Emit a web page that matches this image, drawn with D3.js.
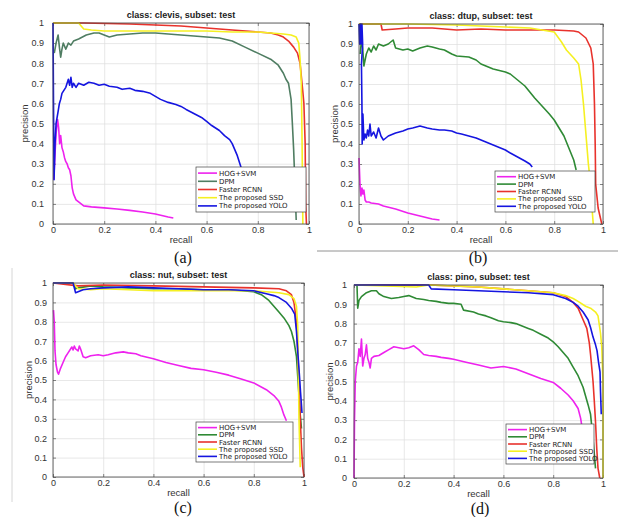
<!DOCTYPE html>
<html>
<head>
<meta charset="utf-8">
<script src="https://d3js.org/d3.v7.min.js"></script>
<style>
  body { margin: 0; background: #fff; }
  svg { display: block; font-family: "Liberation Sans", Arial, sans-serif; }
  .grid line { stroke: #dedede; stroke-width: 0.7px; }
  .tick text { font-size: 9px; fill: #333; }
  .axis path { display: none; }
  .axis line { stroke: #555; stroke-width: 0.7px; }
  .pr { fill: none; stroke-width: 1.6px; stroke-linejoin: round; }
  .leg text { font-family: "DejaVu Sans", sans-serif; font-size: 7px; fill: #222; }
</style>
</head>
<body>
<div id="chart"></div>
<script>
  // categories / labels
  const methods = ["HOG+SVM", "DPM", "Faster RCNN", "The proposed SSD", "The proposed YOLO"];
  const classes = ["clevis", "dtup", "nut", "pino"];
  const captions = ["(a)", "(b)", "(c)", "(d)"];
  const recallTicks = [0, 0.2, 0.4, 0.6, 0.8, 1];
  const precisionTicks = [0, 0.1, 0.2, 0.3, 0.4, 0.5, 0.6, 0.7, 0.8, 0.9, 1];

  // (a) clevis  -- [recall, precision]
  const clevisHog = [[0.003,0.22],[0.008,0.35],[0.012,0.45],[0.018,0.52],[0.022,0.48],[0.026,0.4],[0.03,0.44],[0.035,0.38],[0.04,0.36],[0.045,0.33],[0.05,0.31],[0.055,0.3],[0.06,0.28],[0.065,0.27],[0.07,0.24],[0.075,0.18],[0.08,0.15],[0.09,0.12],[0.1,0.11],[0.11,0.1],[0.12,0.09],[0.15,0.085],[0.2,0.08],[0.25,0.075],[0.3,0.068],[0.35,0.06],[0.4,0.05],[0.45,0.035],[0.47,0.03]];
  const clevisDpm = [[0.005,0.85],[0.012,0.9],[0.02,0.94],[0.025,0.88],[0.03,0.83],[0.035,0.87],[0.04,0.9],[0.05,0.87],[0.06,0.9],[0.07,0.89],[0.08,0.91],[0.1,0.92],[0.13,0.94],[0.16,0.95],[0.18,0.95],[0.2,0.94],[0.22,0.93],[0.25,0.94],[0.3,0.945],[0.35,0.95],[0.4,0.95],[0.45,0.945],[0.5,0.94],[0.55,0.935],[0.6,0.93],[0.65,0.925],[0.7,0.91],[0.75,0.88],[0.8,0.85],[0.85,0.82],[0.88,0.79],[0.9,0.75],[0.91,0.72],[0.92,0.7],[0.93,0.62],[0.935,0.5],[0.94,0.37],[0.945,0.2],[0.95,0.02]];
  const clevisRcnn = [[0,1],[0.12,1],[0.3,0.995],[0.4,0.99],[0.5,0.985],[0.6,0.975],[0.7,0.965],[0.8,0.955],[0.85,0.95],[0.88,0.94],[0.9,0.93],[0.92,0.91],[0.94,0.88],[0.955,0.85],[0.965,0.8],[0.975,0.67],[0.98,0.6],[0.985,0.4],[0.987,0.1],[0.99,0]];
  const clevisSsd = [[0,1],[0.1,1],[0.12,0.97],[0.15,0.965],[0.2,0.96],[0.3,0.96],[0.4,0.96],[0.5,0.96],[0.6,0.96],[0.7,0.955],[0.8,0.955],[0.85,0.95],[0.9,0.945],[0.93,0.94],[0.95,0.93],[0.96,0.9],[0.965,0.82],[0.97,0.7],[0.973,0.4],[0.976,0]];
  const clevisYolo = [[0,1],[0.002,0.6],[0.004,0.22],[0.008,0.4],[0.012,0.5],[0.02,0.56],[0.025,0.6],[0.03,0.62],[0.035,0.65],[0.04,0.66],[0.05,0.68],[0.055,0.7],[0.06,0.72],[0.065,0.69],[0.07,0.73],[0.075,0.68],[0.08,0.7],[0.09,0.68],[0.1,0.7],[0.12,0.69],[0.14,0.705],[0.16,0.7],[0.18,0.69],[0.2,0.695],[0.22,0.685],[0.25,0.68],[0.27,0.67],[0.3,0.675],[0.32,0.665],[0.35,0.66],[0.38,0.65],[0.4,0.635],[0.42,0.62],[0.45,0.605],[0.48,0.595],[0.5,0.585],[0.52,0.57],[0.55,0.55],[0.58,0.53],[0.6,0.51],[0.62,0.49],[0.65,0.465],[0.67,0.44],[0.69,0.42],[0.7,0.4],[0.71,0.37],[0.72,0.34],[0.735,0.28]];

  // (b) dtup
  const dtupHog = [[0,0.33],[0.004,0.2],[0.008,0.14],[0.012,0.18],[0.016,0.15],[0.02,0.17],[0.025,0.12],[0.03,0.11],[0.04,0.11],[0.05,0.105],[0.08,0.1],[0.1,0.09],[0.15,0.075],[0.2,0.055],[0.25,0.04],[0.3,0.025],[0.33,0.02]];
  const dtupDpm = [[0.005,0.85],[0.01,0.92],[0.015,0.88],[0.02,0.79],[0.03,0.85],[0.04,0.88],[0.05,0.86],[0.06,0.89],[0.07,0.87],[0.08,0.9],[0.1,0.89],[0.12,0.9],[0.14,0.92],[0.15,0.88],[0.18,0.87],[0.2,0.875],[0.22,0.865],[0.25,0.88],[0.28,0.89],[0.3,0.885],[0.33,0.875],[0.35,0.87],[0.38,0.85],[0.4,0.84],[0.45,0.835],[0.48,0.82],[0.5,0.8],[0.55,0.775],[0.6,0.76],[0.62,0.75],[0.65,0.72],[0.68,0.69],[0.7,0.66],[0.72,0.63],[0.75,0.59],[0.78,0.55],[0.8,0.52],[0.82,0.48],[0.84,0.44],[0.86,0.38],[0.88,0.32],[0.89,0.27]];
  const dtupRcnn = [[0,1],[0.09,1],[0.095,0.97],[0.15,0.975],[0.2,0.98],[0.3,0.98],[0.35,0.975],[0.4,0.97],[0.5,0.975],[0.6,0.97],[0.7,0.97],[0.8,0.97],[0.88,0.965],[0.9,0.96],[0.93,0.93],[0.95,0.88],[0.96,0.8],[0.965,0.6],[0.968,0.4],[0.97,0.2],[0.98,0.08],[0.995,0]];
  const dtupSsd = [[0,1],[0.2,1],[0.4,0.995],[0.5,0.99],[0.6,0.985],[0.7,0.98],[0.75,0.97],[0.8,0.96],[0.83,0.91],[0.85,0.87],[0.88,0.83],[0.9,0.8],[0.91,0.72],[0.92,0.6],[0.93,0.45],[0.94,0.3],[0.95,0.19],[0.955,0.08],[0.96,0]];
  const dtupYolo = [[0,1],[0.003,0.9],[0.006,1],[0.009,0.9],[0.012,1],[0.015,0.9],[0.01,0.8],[0.012,0.6],[0.013,0.4],[0.016,0.55],[0.02,0.42],[0.025,0.45],[0.03,0.43],[0.035,0.47],[0.04,0.44],[0.045,0.5],[0.05,0.44],[0.06,0.46],[0.07,0.43],[0.08,0.48],[0.09,0.44],[0.1,0.42],[0.12,0.44],[0.15,0.455],[0.18,0.465],[0.2,0.475],[0.22,0.48],[0.25,0.49],[0.28,0.48],[0.3,0.475],[0.33,0.47],[0.35,0.47],[0.38,0.465],[0.4,0.455],[0.42,0.45],[0.45,0.44],[0.48,0.43],[0.5,0.42],[0.52,0.41],[0.55,0.395],[0.58,0.38],[0.6,0.37],[0.62,0.355],[0.65,0.335],[0.68,0.315],[0.7,0.3],[0.71,0.285]];

  // (c) nut
  const nutHog = [[0.002,0.86],[0.005,0.8],[0.008,0.65],[0.012,0.58],[0.018,0.54],[0.022,0.53],[0.03,0.56],[0.04,0.59],[0.05,0.62],[0.06,0.64],[0.07,0.66],[0.075,0.67],[0.08,0.655],[0.085,0.675],[0.09,0.66],[0.1,0.65],[0.105,0.675],[0.11,0.66],[0.12,0.62],[0.13,0.615],[0.15,0.625],[0.18,0.63],[0.2,0.625],[0.22,0.63],[0.25,0.64],[0.28,0.645],[0.3,0.64],[0.33,0.635],[0.35,0.625],[0.4,0.61],[0.45,0.59],[0.5,0.575],[0.55,0.56],[0.6,0.553],[0.65,0.54],[0.7,0.525],[0.75,0.505],[0.8,0.485],[0.85,0.45],[0.88,0.42],[0.9,0.39],[0.91,0.36],[0.92,0.32],[0.93,0.29]];
  const nutDpm = [[0,1],[0.08,1],[0.09,0.97],[0.1,0.975],[0.15,0.985],[0.2,0.98],[0.3,0.975],[0.4,0.97],[0.5,0.97],[0.6,0.965],[0.7,0.965],[0.8,0.955],[0.83,0.94],[0.86,0.91],[0.88,0.88],[0.9,0.85],[0.92,0.82],[0.94,0.78],[0.95,0.75],[0.96,0.7],[0.97,0.62],[0.975,0.52],[0.98,0.42],[0.985,0.32],[0.99,0.25]];
  const nutRcnn = [[0,1],[0.1,0.985],[0.2,0.99],[0.4,0.985],[0.6,0.98],[0.8,0.975],[0.9,0.97],[0.93,0.96],[0.95,0.94],[0.96,0.9],[0.97,0.8],[0.975,0.65],[0.98,0.5],[0.985,0.3],[0.99,0.15],[0.995,0.05],[1,0]];
  const nutSsd = [[0,1],[0.08,1],[0.1,0.97],[0.15,0.965],[0.2,0.97],[0.3,0.965],[0.4,0.96],[0.5,0.96],[0.6,0.96],[0.7,0.96],[0.8,0.96],[0.9,0.95],[0.94,0.94],[0.96,0.92],[0.97,0.88],[0.975,0.78],[0.978,0.5],[0.98,0.3],[0.983,0.15],[0.985,0.05]];
  const nutYolo = [[0,1],[0.08,1],[0.09,0.95],[0.1,0.955],[0.12,0.965],[0.15,0.97],[0.2,0.975],[0.3,0.98],[0.4,0.975],[0.5,0.97],[0.6,0.965],[0.7,0.965],[0.8,0.96],[0.85,0.945],[0.88,0.935],[0.9,0.925],[0.93,0.9],[0.95,0.87],[0.963,0.84],[0.97,0.75],[0.976,0.63],[0.982,0.52],[0.986,0.44],[0.99,0.37],[0.992,0.33]];

  // (d) pino
  const pinoHog = [[0,0],[0.002,0.3],[0.005,0.5],[0.01,0.58],[0.015,0.6],[0.02,0.67],[0.025,0.63],[0.03,0.72],[0.035,0.58],[0.04,0.62],[0.045,0.64],[0.05,0.69],[0.055,0.62],[0.06,0.6],[0.065,0.57],[0.07,0.62],[0.08,0.63],[0.1,0.635],[0.12,0.65],[0.14,0.665],[0.16,0.68],[0.18,0.675],[0.2,0.67],[0.22,0.675],[0.24,0.685],[0.26,0.665],[0.28,0.64],[0.3,0.635],[0.33,0.63],[0.35,0.625],[0.38,0.62],[0.4,0.615],[0.45,0.6],[0.5,0.585],[0.55,0.57],[0.6,0.578],[0.65,0.565],[0.7,0.54],[0.75,0.515],[0.8,0.495],[0.83,0.465],[0.86,0.43],[0.88,0.4],[0.9,0.36],[0.91,0.31],[0.915,0.27]];
  const pinoDpm = [[0.012,1],[0.015,0.88],[0.02,0.92],[0.03,0.94],[0.04,0.95],[0.05,0.96],[0.07,0.97],[0.09,0.97],[0.1,0.955],[0.12,0.94],[0.15,0.93],[0.18,0.935],[0.2,0.94],[0.22,0.945],[0.25,0.93],[0.28,0.925],[0.3,0.92],[0.33,0.915],[0.35,0.91],[0.38,0.905],[0.4,0.905],[0.43,0.9],[0.44,0.87],[0.48,0.86],[0.5,0.85],[0.53,0.84],[0.55,0.83],[0.58,0.815],[0.6,0.81],[0.63,0.805],[0.65,0.8],[0.68,0.785],[0.7,0.775],[0.72,0.765],[0.75,0.745],[0.78,0.725],[0.8,0.705],[0.82,0.68],[0.84,0.65],[0.86,0.62],[0.88,0.575],[0.9,0.53],[0.92,0.47],[0.94,0.38],[0.95,0.33],[0.96,0.2],[0.97,0.05]];
  const pinoRcnn = [[0,1],[0.3,1],[0.4,0.995],[0.5,0.99],[0.6,0.98],[0.7,0.97],[0.8,0.96],[0.85,0.94],[0.88,0.91],[0.9,0.88],[0.92,0.82],[0.935,0.775],[0.945,0.7],[0.95,0.64],[0.96,0.5],[0.965,0.4],[0.97,0.29],[0.975,0.15],[0.98,0.05],[0.987,0]];
  const pinoSsd = [[0,1],[0.25,0.99],[0.3,1],[0.5,0.99],[0.6,0.98],[0.7,0.97],[0.8,0.96],[0.85,0.945],[0.88,0.93],[0.9,0.915],[0.93,0.89],[0.95,0.88],[0.97,0.86],[0.98,0.84],[0.99,0.75],[0.995,0.68],[1,0.5],[1,0]];
  const pinoYolo = [[0,1],[0.3,1],[0.31,0.98],[0.4,0.975],[0.5,0.97],[0.6,0.965],[0.7,0.96],[0.8,0.95],[0.85,0.93],[0.88,0.91],[0.9,0.89],[0.92,0.86],[0.94,0.82],[0.95,0.78],[0.96,0.73],[0.97,0.69],[0.976,0.66],[0.982,0.6],[0.988,0.55],[0.99,0.45],[0.993,0.33]];

  const seriesByClass = [
    [clevisHog, clevisDpm, clevisRcnn, clevisSsd, clevisYolo],
    [dtupHog, dtupDpm, dtupRcnn, dtupSsd, dtupYolo],
    [nutHog, nutDpm, nutRcnn, nutSsd, nutYolo],
    [pinoHog, pinoDpm, pinoRcnn, pinoSsd, pinoYolo]
  ];

  const colors = ["#ee22ee", "#2f8a35", "#e8322c", "#f5f022", "#1515e0"];

  // panel layout (pixel boxes of the plot areas and legends)
  const panels = [
    { l: 53,  r: 309, t: 23,  b: 224, leg: [196, 167, 110, 45], dpm: "#4f7d62", padY: 9, cap: [183, 263] },
    { l: 359, r: 603, t: 24,  b: 224, leg: [495, 171, 100, 41], dpm: "#2f8a35", padY: 6, cap: [478, 263] },
    { l: 53,  r: 304, t: 283, b: 477, leg: [196, 422, 97, 40],  dpm: "#2f8a35", padY: 6, cap: [183, 513] },
    { l: 354, r: 603, t: 285, b: 478, leg: [506, 424, 88, 40],  dpm: "#2f8a35", padY: 7, cap: [480, 514] }
  ];

  const svg = d3.select("#chart").append("svg")
    .attr("width", 618).attr("height", 517);

  // decorations from the page layout
  svg.append("line").attr("x1", 317).attr("x2", 618).attr("y1", 251).attr("y2", 251)
    .attr("stroke", "#777").attr("stroke-width", 0.8);
  svg.append("line").attr("x1", 12).attr("x2", 12).attr("y1", 268).attr("y2", 502)
    .attr("stroke", "#ccc").attr("stroke-width", 0.8);

  panels.forEach((p, i) => {
    const x = d3.scaleLinear().domain([0, 1]).range([p.l, p.r]);
    const y = d3.scaleLinear().domain([0, 1]).range([p.b, p.t]);
    const g = svg.append("g");

    // grid
    g.append("g").attr("class", "grid")
      .attr("transform", `translate(0,${p.b})`)
      .call(d3.axisBottom(x).tickValues(recallTicks).tickSize(-(p.b - p.t)).tickFormat(""))
      .call(s => s.select(".domain").remove());
    g.append("g").attr("class", "grid")
      .attr("transform", `translate(${p.l},0)`)
      .call(d3.axisLeft(y).tickValues(precisionTicks).tickSize(-(p.r - p.l)).tickFormat(""))
      .call(s => s.select(".domain").remove());

    // axes with inward ticks
    g.append("g").attr("class", "axis")
      .attr("transform", `translate(0,${p.b})`)
      .call(d3.axisBottom(x).tickValues(recallTicks).tickSizeInner(-3).tickSizeOuter(0)
        .tickPadding(3).tickFormat(d3.format("~g")));
    g.append("g").attr("class", "axis")
      .attr("transform", `translate(${p.l},0)`)
      .call(d3.axisLeft(y).tickValues(precisionTicks).tickSizeInner(-3).tickSizeOuter(0)
        .tickPadding(p.padY).tickFormat(d3.format("~g")));
    g.append("g").attr("class", "axis")
      .attr("transform", `translate(0,${p.t})`)
      .call(d3.axisTop(x).tickValues(recallTicks).tickSizeInner(-3).tickSizeOuter(0).tickFormat(""));
    g.append("g").attr("class", "axis")
      .attr("transform", `translate(${p.r},0)`)
      .call(d3.axisRight(y).tickValues(precisionTicks).tickSizeInner(-3).tickSizeOuter(0).tickFormat(""));

    // curves
    const line = d3.line().x(d => x(d[0])).y(d => y(d[1]));
    seriesByClass[i].forEach((s, k) => {
      g.append("path").attr("class", "pr")
        .attr("d", line(s))
        .attr("stroke", k === 1 ? p.dpm : colors[k]);
    });

    // box
    g.append("rect").attr("x", p.l).attr("y", p.t)
      .attr("width", p.r - p.l).attr("height", p.b - p.t)
      .attr("fill", "none").attr("stroke", "#444").attr("stroke-width", 0.8);

    // titles
    g.append("text").attr("x", (p.l + p.r) / 2).attr("y", p.t - 5)
      .attr("text-anchor", "middle").attr("font-size", 9).attr("font-weight", "bold")
      .attr("fill", "#222").text(`class: ${classes[i]}, subset: test`);
    g.append("text").attr("x", (p.l + p.r) / 2).attr("y", p.b + 19)
      .attr("text-anchor", "middle").attr("font-size", 9.5).attr("fill", "#333").text("recall");
    g.append("text")
      .attr("transform", `translate(${p.l - (i === 0 ? 25 : 21)},${(p.t + p.b) / 2}) rotate(-90)`)
      .attr("text-anchor", "middle").attr("font-size", 9.5).attr("fill", "#333").text("precision");

    // legend
    const [lx, ly, lw, lh] = p.leg;
    const leg = g.append("g").attr("class", "leg");
    leg.append("rect").attr("x", lx).attr("y", ly).attr("width", lw).attr("height", lh)
      .attr("fill", "#fff").attr("stroke", "#444").attr("stroke-width", 0.7);
    const rowH = (lh - 4) / methods.length;
    methods.forEach((m, k) => {
      const cy = ly + 2 + rowH * (k + 0.5);
      leg.append("line").attr("x1", lx + 2).attr("x2", lx + 21).attr("y1", cy).attr("y2", cy)
        .attr("stroke", k === 1 ? p.dpm : colors[k]).attr("stroke-width", 1.6);
      leg.append("text").attr("x", lx + 23).attr("y", cy + 2.5).text(m);
    });

    // caption
    svg.append("text").attr("x", p.cap[0]).attr("y", p.cap[1])
      .attr("text-anchor", "middle").attr("font-family", "'Liberation Serif', 'Times New Roman', serif")
      .attr("font-size", 16).attr("fill", "#111").text(captions[i]);
  });
</script>
</body>
</html>
